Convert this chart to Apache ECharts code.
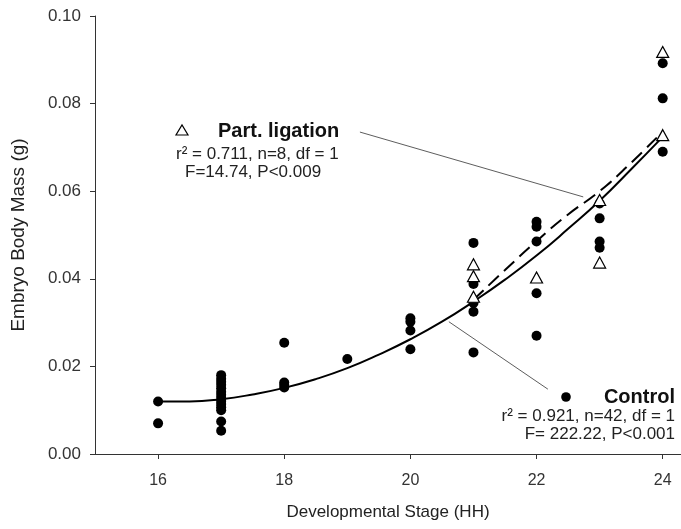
<!DOCTYPE html>
<html>
<head>
<meta charset="utf-8">
<script src="https://cdn.jsdelivr.net/npm/echarts@6/dist/echarts.min.js"></script>
<style>
  html, body { margin: 0; padding: 0; background: #fff; }
  #main { width: 681px; height: 529px; }
</style>
</head>
<body>
<div id="main"></div>
<script>
// stage (HH) -> embryo body mass (g), control group
const ctrl16 = [0.0120, 0.0070]
const ctrl17 = [0.0180, 0.0172, 0.0165, 0.0158, 0.0150, 0.0142, 0.0135, 0.0128, 0.0121, 0.0114, 0.0107, 0.0100, 0.0074, 0.0053]
const ctrl18 = [0.0254, 0.0163, 0.0158, 0.0152]
const ctrl19 = [0.0217]
const ctrl20 = [0.0310, 0.0302, 0.0282, 0.0239]
const ctrl21 = [0.0482, 0.0388, 0.0345, 0.0325, 0.0232]
const ctrl22 = [0.0530, 0.0519, 0.0485, 0.0367, 0.0270]
const ctrl23 = [0.0572, 0.0538, 0.0485, 0.0471]
const ctrl24 = [0.0892, 0.0812, 0.0690]

// partial ligation group
const lig21 = [0.0433, 0.0406, 0.0359]
const lig22 = [0.0403]
const lig23 = [0.0580, 0.0437]
const lig24 = [0.0918, 0.0728]

// regression curves
const ctrlFitStage = [16, 16.5, 17, 17.5, 18, 18.5, 19, 19.5, 20, 20.5, 21, 21.5, 22, 22.5, 23, 23.5, 24]
const ctrlFitMass = [0.0120, 0.0120, 0.0125, 0.0136, 0.0151, 0.0171, 0.0196, 0.0227, 0.0262, 0.0302, 0.0348, 0.0398, 0.0453, 0.0514, 0.0578, 0.0650, 0.0724]
const ligFitStage = [21, 21.5, 22, 22.5, 23, 23.5, 24]
const ligFitMass = [0.0352, 0.0420, 0.0486, 0.0547, 0.0600, 0.0665, 0.0736]

const xTicks = [16, 18, 20, 22, 24]

const font = "'Liberation Sans', Arial, Helvetica, sans-serif"

const pairs = (stage, vals) => vals.map(v => [stage, v])
const controlData = [].concat(
  pairs(16, ctrl16), pairs(17, ctrl17), pairs(18, ctrl18), pairs(19, ctrl19),
  pairs(20, ctrl20), pairs(21, ctrl21), pairs(22, ctrl22), pairs(23, ctrl23), pairs(24, ctrl24)
)
const ligationData = [].concat(pairs(21, lig21), pairs(22, lig22), pairs(23, lig23), pairs(24, lig24))
const zip = (xs, ys) => xs.map((x, i) => [x, ys[i]])

const chart = echarts.init(document.getElementById('main'))
const option = {
  animation: false,
  textStyle: { fontFamily: font },
  grid: { left: 95, top: 16, right: 0, bottom: 75 },
  xAxis: {
    type: 'value',
    min: 15,
    max: 24.29,
    name: 'Developmental Stage (HH)',
    nameLocation: 'middle',
    nameGap: 50,
    nameTextStyle: { fontSize: 17, color: '#222', fontFamily: font },
    splitLine: { show: false },
    axisLine: { lineStyle: { color: '#333', width: 1 } },
    axisTick: { show: true, length: 5, customValues: xTicks, lineStyle: { color: '#333' } },
    axisLabel: { customValues: xTicks, fontSize: 16, color: '#333', margin: 19, fontFamily: font }
  },
  yAxis: {
    type: 'value',
    min: 0,
    max: 0.1,
    interval: 0.02,
    name: 'Embryo Body Mass (g)',
    nameLocation: 'middle',
    nameGap: 67,
    nameTextStyle: { fontSize: 19, color: '#222', fontFamily: font },
    splitLine: { show: false },
    axisLine: { show: true, lineStyle: { color: '#333', width: 1 } },
    axisTick: { show: true, length: 5, lineStyle: { color: '#333' } },
    axisLabel: {
      fontSize: 17,
      color: '#333',
      margin: 14,
      fontFamily: font,
      formatter: v => v.toFixed(2)
    }
  },
  series: [
    // control fit
    {
      type: 'line',
      data: zip(ctrlFitStage, ctrlFitMass),
      smooth: true,
      symbol: 'none',
      lineStyle: { color: '#000', width: 2 },
      z: 3,
      markLine: {
        silent: true,
        symbol: 'none',
        label: { show: false },
        lineStyle: { color: '#333', width: 0.8, type: 'solid' },
        data: [
          [{ coord: [19.2, 0.0735] }, { coord: [22.74, 0.0587] }],
          [{ coord: [20.61, 0.0302] }, { coord: [22.18, 0.0148] }]
        ]
      }
    },
    // partial ligation fit
    {
      type: 'line',
      data: zip(ligFitStage, ligFitMass),
      smooth: true,
      symbol: 'none',
      lineStyle: { color: '#000', width: 2, type: [14, 7] },
      z: 3
    },
    {
      name: 'Control',
      type: 'scatter',
      data: controlData,
      symbol: 'circle',
      symbolSize: 10,
      itemStyle: { color: '#000', opacity: 1 },
      z: 4
    },
    {
      name: 'Part. ligation',
      type: 'scatter',
      data: ligationData,
      symbol: 'triangle',
      symbolSize: [12, 11],
      itemStyle: { color: '#fff', borderColor: '#000', borderWidth: 1.2, opacity: 1 },
      z: 5
    }
  ],
  graphic: [
    {
      type: 'polygon',
      shape: { points: [[176, 135], [188, 135], [182, 125]] },
      style: { fill: '#fff', stroke: '#000', lineWidth: 1.2 }
    },
    {
      type: 'text',
      style: { x: 218, y: 131, text: 'Part. ligation', fontSize: 20, fontWeight: 'bold', fill: '#111', fontFamily: font, textVerticalAlign: 'middle' }
    },
    {
      type: 'text',
      style: { x: 176, y: 154, text: 'r² = 0.711, n=8, df = 1', fontSize: 17, fill: '#222', fontFamily: font, textVerticalAlign: 'middle' }
    },
    {
      type: 'text',
      style: { x: 185, y: 172, text: 'F=14.74, P<0.009', fontSize: 17, fill: '#222', fontFamily: font, textVerticalAlign: 'middle' }
    },
    {
      type: 'circle',
      shape: { cx: 566, cy: 397, r: 4.8 },
      style: { fill: '#000' }
    },
    {
      type: 'text',
      style: { x: 675, y: 397, text: 'Control', fontSize: 20, fontWeight: 'bold', fill: '#111', fontFamily: font, textAlign: 'right', textVerticalAlign: 'middle' }
    },
    {
      type: 'text',
      style: { x: 675, y: 416, text: 'r² = 0.921, n=42, df = 1', fontSize: 17, fill: '#222', fontFamily: font, textAlign: 'right', textVerticalAlign: 'middle' }
    },
    {
      type: 'text',
      style: { x: 675, y: 434, text: 'F= 222.22, P<0.001', fontSize: 17, fill: '#222', fontFamily: font, textAlign: 'right', textVerticalAlign: 'middle' }
    }
  ]
}

option && chart.setOption(option)
</script>
</body>
</html>
